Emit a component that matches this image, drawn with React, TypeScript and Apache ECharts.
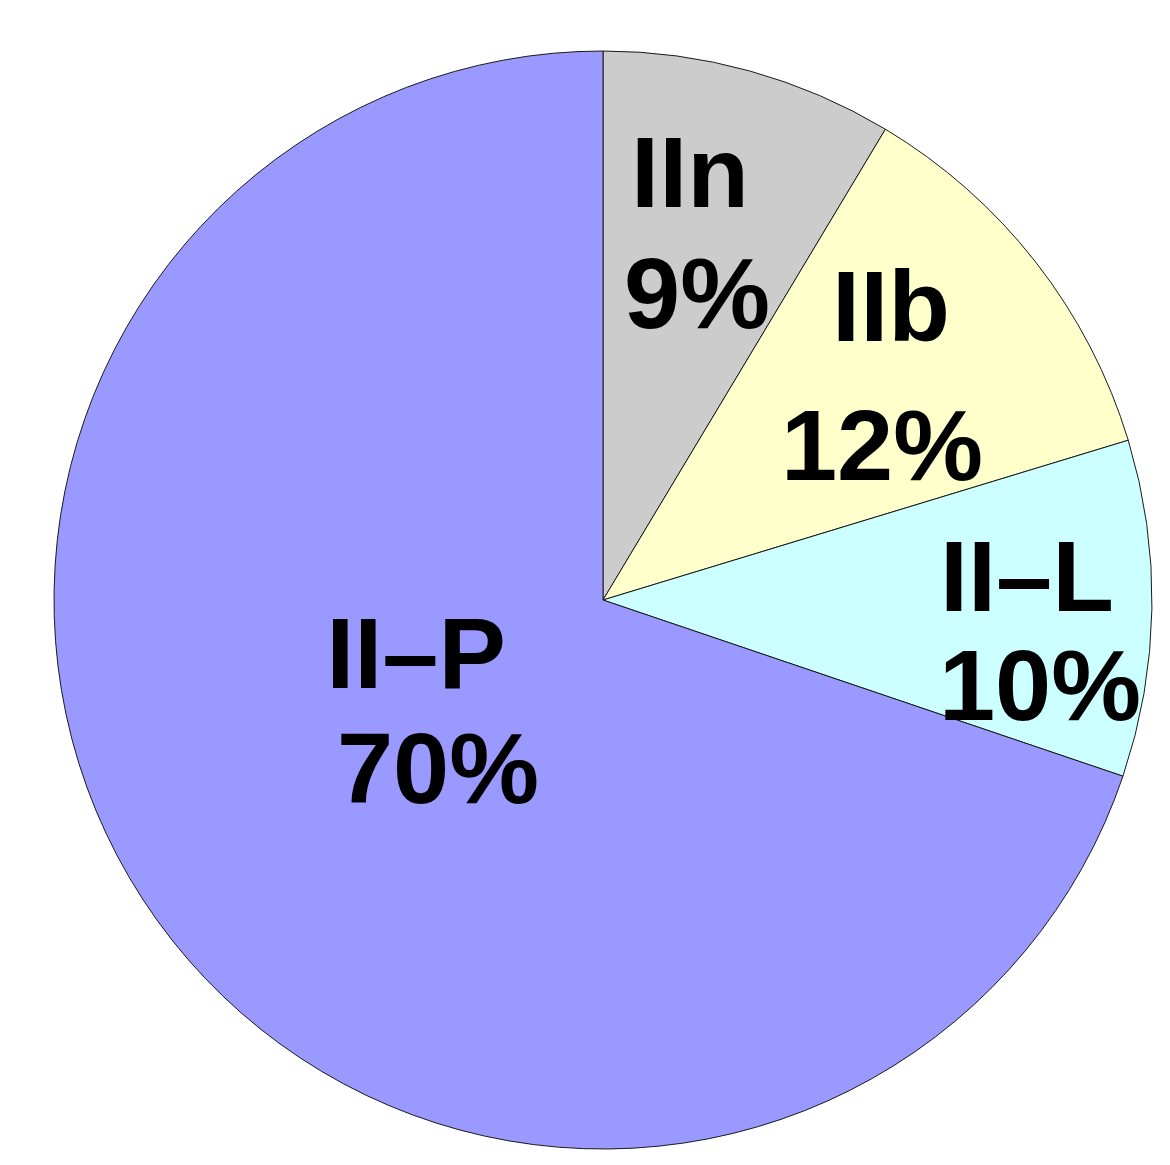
import React, { useEffect, useRef } from "react";
import * as echarts from "echarts";

const names = ["IIn", "IIb", "II–L", "II–P"];
const values = [8.6, 11.7, 9.9, 69.8];
const pctLabels = ["9%", "12%", "10%", "70%"];
const colors = ["#cccccc", "#ffffcc", "#ccffff", "#9999ff"];
// first-line centre x, second-line centre x, block centre y, line spacing
const nameX = [690, 891, 1027, 416];
const pctX = [697, 882, 1040, 438];
const labelY = [232, 375, 630, 710];
const labelLineHeight = [121, 139, 109, 115];

const FONT = {
  fontFamily: "Liberation Sans, Arial, sans-serif",
  fontWeight: "bold",
  fontSize: 101,
  color: "#000000",
};

export default function App() {
  const ref = useRef<HTMLDivElement>(null);
  useEffect(() => {
    if (!ref.current) return;
    const chart = echarts.init(ref.current, null, { renderer: "svg" });
    chart.setOption({
      animation: false,
      backgroundColor: "#ffffff",
      series: [
        {
          type: "pie",
          center: [603, 600],
          radius: 549,
          startAngle: 90,
          clockwise: true,
          silent: true,
          emphasis: { disabled: true },
          labelLine: { show: false },
          itemStyle: { borderColor: "#1a1a1a", borderWidth: 1 },
          label: {
            show: true,
            position: "inside",
            ...FONT,
            align: "center",
            verticalAlign: "middle",
          },
          labelLayout: (p: any) => ({
            x: nameX[p.dataIndex],
            y: labelY[p.dataIndex],
            align: "center",
            verticalAlign: "middle",
          }),
          data: names.map((n, i) => {
            const d = pctX[i] - nameX[i];
            const pad = d >= 0 ? [0, 0, 0, 2 * d] : [0, -2 * d, 0, 0];
            return {
              name: n,
              value: values[i],
              itemStyle: { color: colors[i] },
              label: {
                formatter: "{a|" + n + "}\n{b|" + pctLabels[i] + "}",
                lineHeight: labelLineHeight[i],
                rich: {
                  a: { ...FONT, lineHeight: labelLineHeight[i] },
                  b: { ...FONT, lineHeight: labelLineHeight[i], padding: pad },
                },
              },
            };
          }),
        },
      ],
    });
    return () => chart.dispose();
  }, []);
  return (
    <div
      ref={ref}
      style={{ position: "fixed", left: 0, top: 0, width: 1170, height: 1165 }}
    />
  );
}
